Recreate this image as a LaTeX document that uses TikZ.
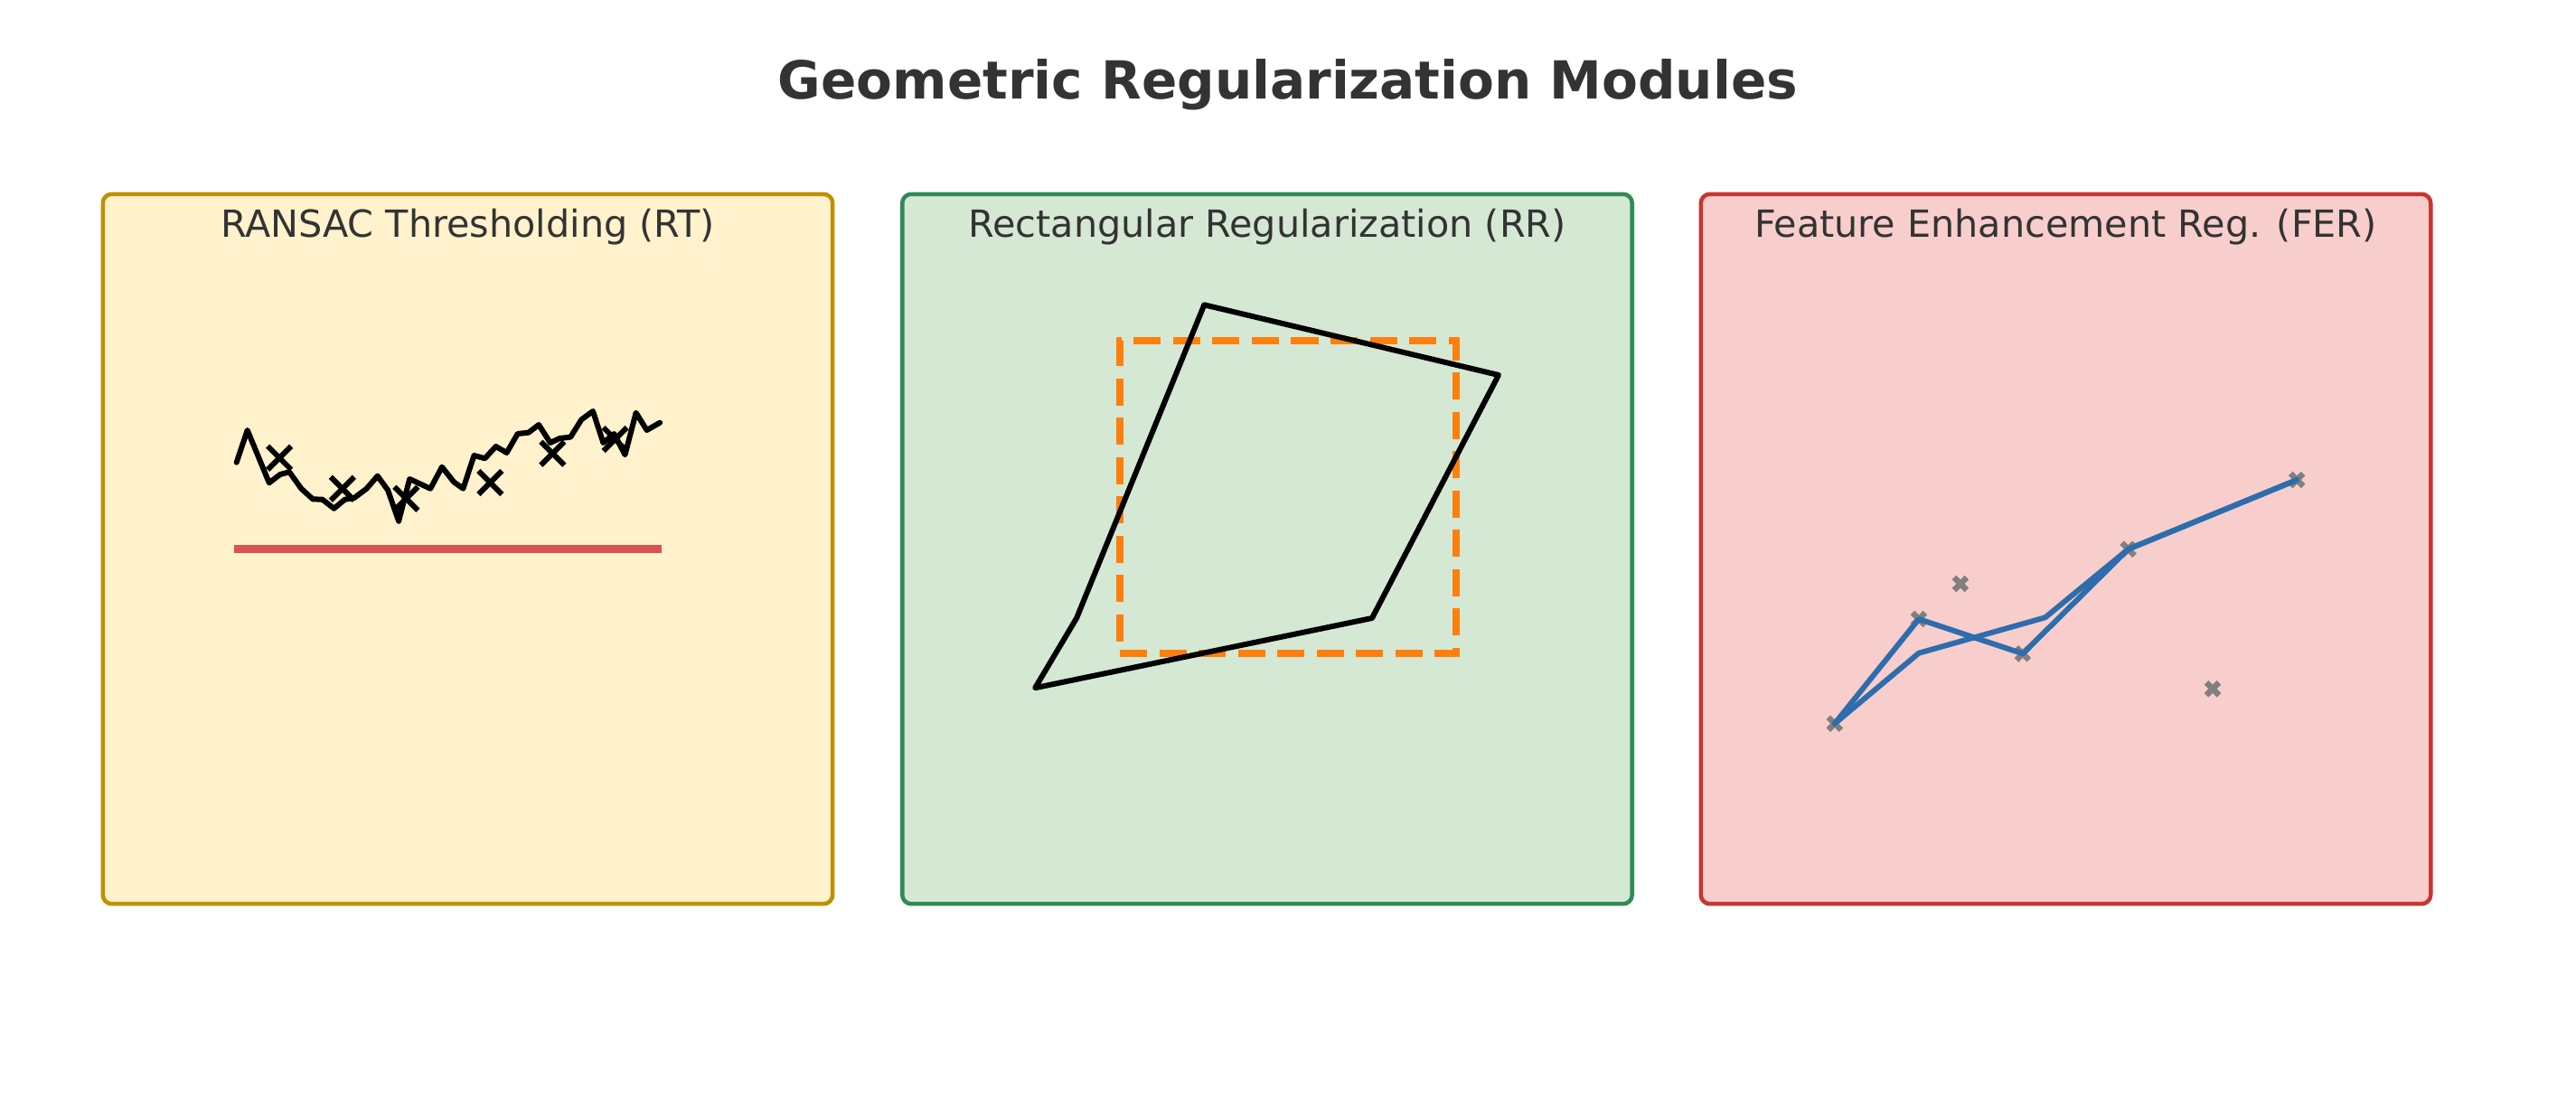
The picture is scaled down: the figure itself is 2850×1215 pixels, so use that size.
\documentclass[tikz,border=0pt]{standalone}
\usepackage{fontspec}
\setmainfont{DejaVu Sans}
\definecolor{txt}{HTML}{333333}
\definecolor{yfill}{HTML}{FFF2CC}
\definecolor{ydraw}{HTML}{BF9000}
\definecolor{gfill}{HTML}{D5E8D4}
\definecolor{gdraw}{HTML}{2E8B57}
\definecolor{rfill}{HTML}{F8CECC}
\definecolor{rdraw}{HTML}{C9352F}
\definecolor{redline}{HTML}{D9534F}
\definecolor{orng}{HTML}{FF7F0E}
\definecolor{blu}{HTML}{2E6DAD}
\definecolor{gry}{HTML}{808080}
\begin{document}
\begin{tikzpicture}[x=0.01cm,y=-0.01cm,
  panel/.style={rounded corners=0.1cm, line width=0.045cm, minimum width=8.07cm, minimum height=7.85cm, inner sep=0pt},
  ptitle/.style={text=txt, font=\fontsize{11.75}{14}\selectfont, anchor=base, inner sep=0pt},
  blk/.style={black, line width=0.06cm, line join=round, line cap=round},
  xmk/.pic={\draw[black, line width=0.06cm] (-13,-13) -- (13,13) (-13,13) -- (13,-13);},
  gmk/.pic={\draw[gry, line width=0.065cm] (-7,-7) -- (7,7) (-7,7) -- (7,-7);}
]
\useasboundingbox (0,0) rectangle (2850,1215);
\fill[white] (0,0) rectangle (2850,1215);

\node[text=txt, font=\fontsize{16.5}{20}\selectfont\bfseries, anchor=base, inner sep=0pt] (title) at (1425,110) {Geometric Regularization Modules};

% panels
\node[panel, fill=yfill, draw=ydraw] (rt) at (517.5,607.5) {};
\node[panel, fill=gfill, draw=gdraw] (rr) at (1402,607.5) {};
\node[panel, fill=rfill, draw=rdraw] (fer) at (2285.5,607.5) {};

\node[ptitle] (rtt) at (517.5,262) {RANSAC Thresholding (RT)};
\node[ptitle] (rrt) at (1402,262) {Rectangular Regularization (RR)};
\node[ptitle] (fert) at (2285.5,262) {Feature Enhancement Reg. (FER)};

% RT contents
\draw[redline, line width=0.085cm] (259,607.7) -- (732,607.7);
\draw[blk] (261.7,511.7) -- (273.7,476) -- (297.8,534.3) -- (309.9,525) -- (320.2,522.3) -- (333.3,540.7) -- (346.1,552.3) -- (356.7,552.7) -- (369.5,562.7) -- (381.5,552.7) -- (391.9,551) -- (405.6,540.7) -- (417.7,526.7) -- (429.1,542.3) -- (441.1,576.7) -- (453.2,530) -- (476.2,540.7) -- (489,516.7) -- (502.1,533.3) -- (512.4,540.7) -- (524.5,504) -- (536.5,507.3) -- (548.6,494) -- (560.6,501) -- (572.7,480) -- (584.7,478.7) -- (596.1,470) -- (608.8,490) -- (619.2,485) -- (631.2,483.7) -- (643.3,464.3) -- (656,455) -- (667.4,490) -- (679.4,480) -- (691.5,503.3) -- (703.6,456.7) -- (715.6,476) -- (730.1,467.7);
\pic at (309.2,506.7) {xmk};
\pic at (378.8,540.7) {xmk};
\pic at (449.4,551.7) {xmk};
\pic at (542.4,534) {xmk};
\pic at (611.3,501.7) {xmk};
\pic at (680.5,486) {xmk};

% RR contents
\draw[orng, line width=0.08cm, dash pattern=on 0.3cm off 0.135cm, line join=miter] (1239,723) -- (1611,723) -- (1611,377) -- (1239,377) -- cycle;
\draw[blk] (1332.3,337.3) -- (1658,415) -- (1518,684) -- (1145.2,761.2) -- (1191.1,684) -- cycle;

% FER contents
\pic at (2029.8,800.7) {gmk};
\pic at (2122.9,685) {gmk};
\pic at (2168.9,646) {gmk};
\pic at (2237.9,723.3) {gmk};
\pic at (2354.6,607.7) {gmk};
\pic at (2448,762.3) {gmk};
\pic at (2541.2,531) {gmk};
\draw[blu, line width=0.06cm, line join=round, line cap=round] (2029.8,800.7) -- (2122.9,685) -- (2237.9,723.3) -- (2354.6,607.7) -- (2541.2,531);
\draw[blu, line width=0.06cm, line join=round, line cap=round] (2029.8,800.7) -- (2122.9,722.7) -- (2262.7,683.3) -- (2354.6,607.7) -- (2541.2,531);
\end{tikzpicture}
\end{document}
